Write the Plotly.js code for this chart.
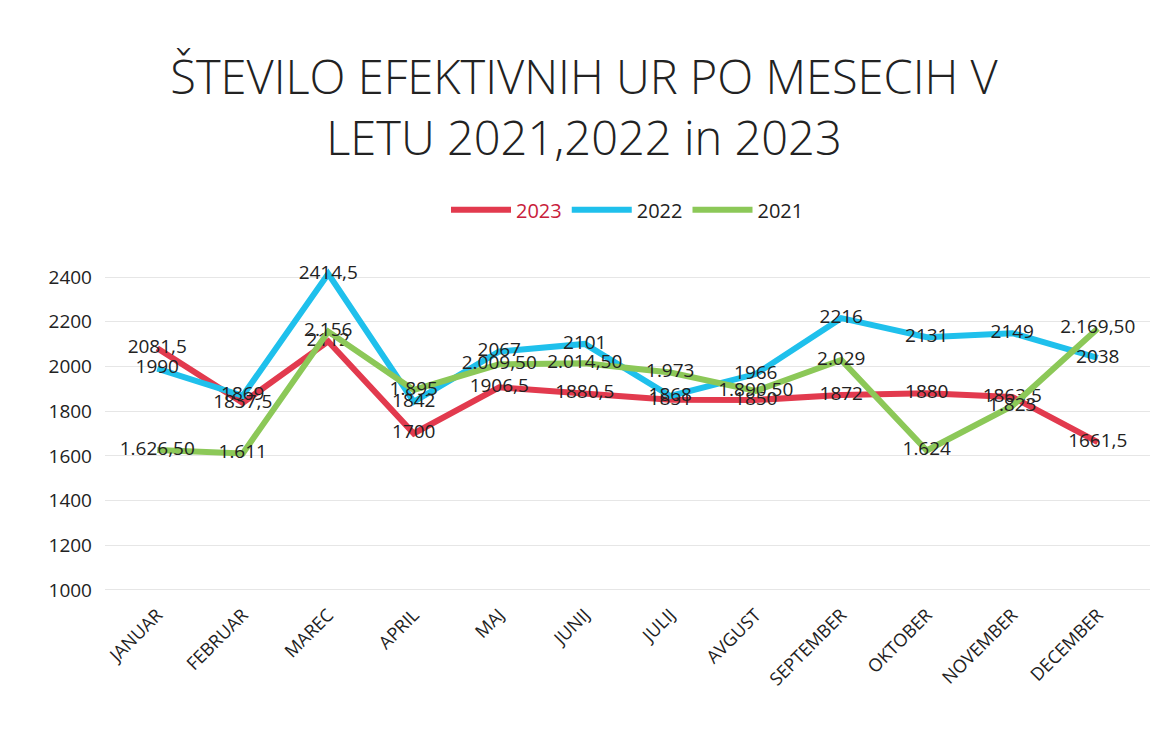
<!DOCTYPE html>
<html>
<head>
<meta charset="utf-8">
<script src="https://cdn.plot.ly/plotly-3.0.1.min.js"></script>
<style>html,body{margin:0;padding:0;background:#fff;}#chart{width:1168px;height:734px;}</style>
</head>
<body>
<div id="chart"></div>
<script>
const months = ["JANUAR","FEBRUAR","MAREC","APRIL","MAJ","JUNIJ","JULIJ","AVGUST","SEPTEMBER","OKTOBER","NOVEMBER","DECEMBER"];
const values2023 = [2081.5, 1837.5, 2112, 1700, 1906.5, 1880.5, 1851, 1850, 1872, 1880, 1863.5, 1661.5];
const values2022 = [1990, 1869, 2414.5, 1842, 2067, 2101, 1868, 1966, 2216, 2131, 2149, 2038];
const values2021 = [1626.5, 1611, 2156, 1895, 2009.5, 2014.5, 1973, 1890.5, 2029, 1624, 1823, 2169.5];
const yTicks = [1000, 1200, 1400, 1600, 1800, 2000, 2200, 2400];

function plainFmt(v){ return String(v).replace('.', ','); }
function thousandsFmt(v){
  const isInt = Number.isInteger(v);
  const parts = v.toFixed(isInt ? 0 : 2).split('.');
  const intPart = parts[0].replace(/\B(?=(\d{3})+(?!\d))/g, '.');
  return isInt ? intPart : intPart + ',' + parts[1];
}

const FONT = "Open Sans, Liberation Sans, sans-serif";
const labelFont = {family: FONT, size: 19, color: "#222"};
function trace(name, vals, color, fmt){
  return {
    type: 'scatter', mode: 'lines+text', name: name,
    x: months, y: vals,
    text: vals.map(fmt), textposition: 'middle center',
    textfont: labelFont,
    line: {color: color, width: 6},
    cliponaxis: false, hoverinfo: 'x+y'
  };
}

const data = [
  trace('<span style="color:#c8203a">2023</span>', values2023, '#e23a4e', plainFmt),
  trace('2022', values2022, '#1fc0ec', plainFmt),
  trace('2021', values2021, '#8cc858', thousandsFmt)
];

const layout = {
  width: 1168, height: 734,
  paper_bgcolor: '#fff', plot_bgcolor: '#fff',
  margin: {l: 105, r: 18, t: 265, b: 134},
  title: {
    text: 'ŠTEVILO EFEKTIVNIH UR PO MESECIH V<br>LETU 2021,2022 in 2023',
    font: {family: FONT, size: 47, color: '#222', weight: 300},
    x: 0.5, xanchor: 'center', y: 0.872, yanchor: 'top', yref: 'container'
  },
  showlegend: true,
  legend: {
    orientation: 'h', x: 0.5, xanchor: 'center', y: 1.165, yanchor: 'middle',
    font: {family: FONT, size: 20, color: '#222'},
    itemwidth: 60
  },
  xaxis: {
    type: 'category', tickangle: -45, showgrid: false, zeroline: false, showline: false,
    ticks: '', tickfont: {family: FONT, size: 18, color: '#222'}
  },
  yaxis: {
    range: [955, 2454], tickvals: yTicks, ticktext: yTicks.map(String),
    showgrid: true, gridcolor: '#e6e6e6', gridwidth: 1, zeroline: false, showline: false,
    ticks: '', ticklabelstandoff: 12,
    tickfont: {family: FONT, size: 19, color: '#222'}
  }
};

Plotly.newPlot('chart', data, layout, {displayModeBar: false, staticPlot: true});
</script>
</body>
</html>
